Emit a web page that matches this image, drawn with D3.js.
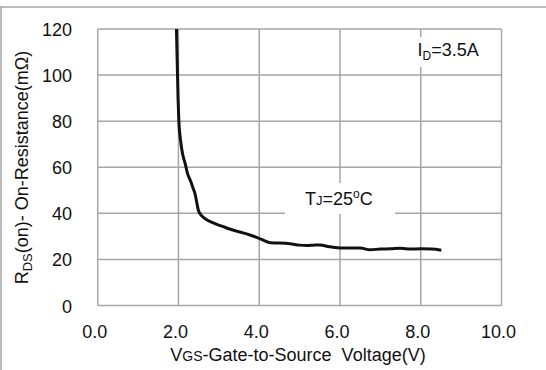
<!DOCTYPE html>
<html>
<head>
<meta charset="utf-8">
<script src="https://cdn.jsdelivr.net/npm/d3@7"></script>
<style>
  body { margin: 0; background: #fff; }
  svg text { font-family: "Liberation Sans", Arial, sans-serif; fill: #111; }
</style>
</head>
<body>
<div id="chart"></div>
<script>
// VGS (V) vs RDS(on) (mOhm)
const vgs = [1.95, 1.97, 1.99, 2.01, 2.05, 2.10, 2.16, 2.23, 2.30, 2.36, 2.41, 2.45, 2.49, 2.55, 2.62, 2.72, 2.82, 2.95, 3.11, 3.27, 3.44, 3.60, 3.77, 3.95, 4.10, 4.27, 4.50, 4.76, 5.00, 5.18, 5.35, 5.51, 5.70, 6.00, 6.25, 6.50, 6.74, 7.00, 7.25, 7.50, 7.75, 8.00, 8.27, 8.51];
const rds = [120, 105, 90, 80, 72, 66, 62, 57, 54, 51, 48.5, 45, 41.5, 39.5, 38.2, 37, 36.2, 35.2, 34.2, 33.2, 32.3, 31.5, 30.6, 29.5, 28.4, 27.2, 27.1, 26.8, 26.2, 26, 26.2, 26.3, 25.6, 25.0, 25.0, 25.0, 24.2, 24.5, 24.6, 24.8, 24.5, 24.6, 24.5, 24.0];
const xTicks = [0, 2, 4, 6, 8, 10];
const yTicks = [0, 20, 40, 60, 80, 100, 120];

const W = 546, H = 370;
const svg = d3.select("#chart").append("svg").attr("width", W).attr("height", H);

const x = d3.scaleLinear().domain([0, 10]).range([97.7, 501.5]);
const y = d3.scaleLinear().domain([0, 120]).range([305.5, 29]);
const gridColor = "#a6a6a6";

// outer frame (top and left edge only visible)
svg.append("line").attr("x1", 0).attr("x2", W).attr("y1", 7).attr("y2", 7)
  .attr("stroke", gridColor).attr("stroke-width", 1.5);
svg.append("line").attr("x1", 1).attr("x2", 1).attr("y1", 7).attr("y2", H)
  .attr("stroke", gridColor).attr("stroke-width", 1.5);

// grid
const g = svg.append("g");
g.selectAll(".vgrid").data(xTicks).enter().append("line")
  .attr("class", "vgrid")
  .attr("x1", (d) => x(d)).attr("x2", (d) => x(d))
  .attr("y1", y(120)).attr("y2", y(0))
  .attr("stroke", gridColor).attr("stroke-width", 1.5);
g.selectAll(".hgrid").data(yTicks).enter().append("line")
  .attr("class", "hgrid")
  .attr("x1", x(0)).attr("x2", x(10))
  .attr("y1", (d) => y(d)).attr("y2", (d) => y(d))
  .attr("stroke", gridColor).attr("stroke-width", 1.5);

// tick labels
g.selectAll(".xlab").data(xTicks).enter().append("text")
  .attr("x", (d) => x(d) - 3).attr("y", 338)
  .attr("text-anchor", "middle").attr("font-size", 18)
  .text((d) => d3.format(".1f")(d));
g.selectAll(".ylab").data(yTicks).enter().append("text")
  .attr("x", 72).attr("y", (d) => y(d) + 7)
  .attr("text-anchor", "end").attr("font-size", 18)
  .text((d) => d);

// annotation boxes
svg.append("rect").attr("x", 405).attr("y", 37).attr("width", 74).attr("height", 30).attr("fill", "#fff");
svg.append("rect").attr("x", 285).attr("y", 183).attr("width", 110).attr("height", 31).attr("fill", "#fff");

const id = svg.append("text").attr("x", 417.5).attr("y", 56).attr("font-size", 18);
id.append("tspan").text("I");
id.append("tspan").attr("font-size", 12).attr("dy", 4).text("D");
id.append("tspan").attr("dy", -4).text("=3.5A");

const tj = svg.append("text").attr("x", 305).attr("y", 205).attr("font-size", 18);
tj.append("tspan").text("T");
tj.append("tspan").attr("font-size", 13).text("J");
tj.append("tspan").text("=25");
tj.append("tspan").attr("font-size", 12).attr("dy", -7).text("o");
tj.append("tspan").attr("dy", 7).text("C");

// curve
const pts = vgs.map((v, i) => [v, rds[i]]);
const line = d3.line().x((d) => x(d[0])).y((d) => y(d[1])).curve(d3.curveMonotoneX);
svg.append("path").datum(pts)
  .attr("d", line)
  .attr("fill", "none").attr("stroke", "#111").attr("stroke-width", 3)
  .attr("stroke-linejoin", "round");

// axis titles
const xt = svg.append("text").attr("x", 298).attr("y", 361)
  .attr("text-anchor", "middle").attr("font-size", 18).style("white-space", "pre");
xt.append("tspan").text("V");
xt.append("tspan").attr("font-size", 14).text("GS");
xt.append("tspan").text("-Gate-to-Source  Voltage(V)");

const yt = svg.append("text")
  .attr("transform", "translate(28,167.5) rotate(-90)")
  .attr("text-anchor", "middle").attr("font-size", 18);
yt.append("tspan").text("R");
yt.append("tspan").attr("font-size", 13).attr("dy", 4).text("DS");
yt.append("tspan").attr("dy", -4).text("(on)- On-Resistance(mΩ)");
</script>
</body>
</html>
